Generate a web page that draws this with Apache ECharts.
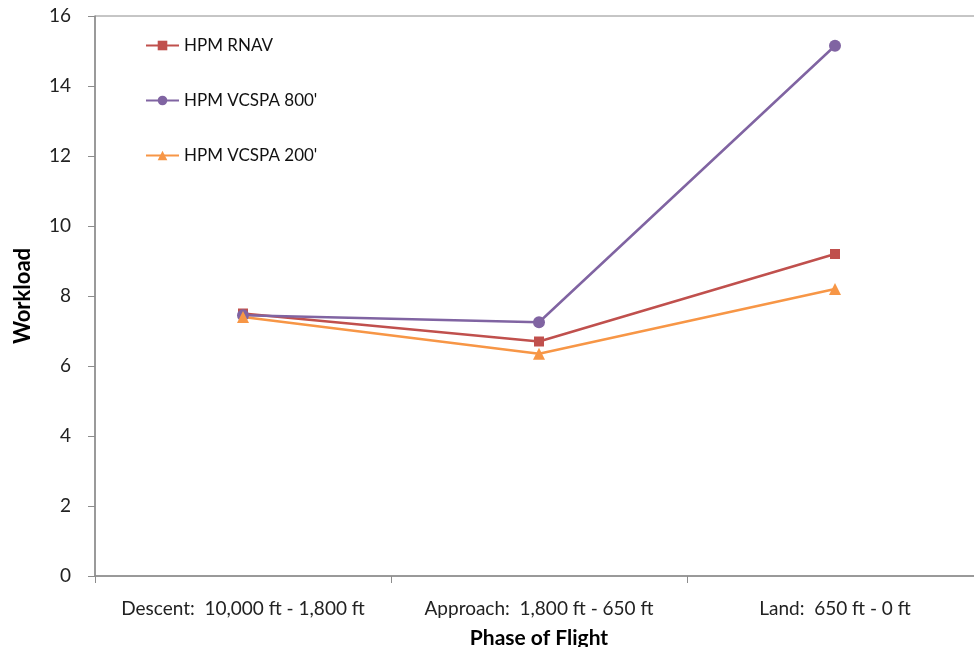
<!DOCTYPE html>
<html>
<head>
<meta charset="utf-8">
<script src="https://cdn.jsdelivr.net/npm/echarts@6/dist/echarts.min.js"></script>
<style>
  html, body { margin: 0; padding: 0; background: #fff; overflow: hidden; }
  #chart { width: 974px; height: 647px; }
</style>
</head>
<body>
<div id="chart"></div>
<script>
// Workload by phase of flight
const phases = ['Descent:  10,000 ft - 1,800 ft', 'Approach:  1,800 ft - 650 ft', 'Land:  650 ft - 0 ft'];
const hpmRnav = [7.5, 6.7, 9.2];
const hpmVcspa800 = [7.45, 7.25, 15.15];
const hpmVcspa200 = [7.4, 6.35, 8.2];
const yTicks = [0, 2, 4, 6, 8, 10, 12, 14, 16];

const font = 'Lato, "Open Sans", "Liberation Sans", sans-serif';
const axisGray = '#8c8c8c';

const chart = echarts.init(document.getElementById('chart'));

function lineSeries(name, data, color, symbol, size) {
  return {
    name: name,
    type: 'line',
    data: data,
    symbol: symbol,
    symbolSize: size,
    lineStyle: { color: color, width: 2.5 },
    itemStyle: { color: color },
    emphasis: { disabled: true },
    animation: false
  };
}

chart.setOption({
  animation: false,
  // plot area runs past the right edge of the canvas
  grid: {
    left: 95, top: 16, width: 888, height: 560,
    outerBoundsMode: 'none',
    containLabel: false,
    show: true, borderColor: axisGray, borderWidth: 1
  },
  legend: {
    orient: 'vertical',
    left: 145, top: 37,
    padding: 0,
    itemGap: 38,
    itemWidth: 33, itemHeight: 12,
    textStyle: { fontFamily: font, fontSize: 17, color: '#111' },
    data: ['HPM RNAV', "HPM VCSPA 800'", "HPM VCSPA 200'"]
  },
  xAxis: {
    type: 'category',
    data: phases,
    boundaryGap: true,
    name: 'Phase of Flight',
    nameLocation: 'middle',
    nameGap: 52,
    nameTextStyle: { fontFamily: font, fontSize: 21, fontWeight: 'bold', color: '#000' },
    axisLine: { lineStyle: { color: axisGray, width: 1.5 } },
    axisTick: { show: true, length: 7, lineStyle: { color: axisGray } },
    axisLabel: { fontFamily: font, fontSize: 19, color: '#222', margin: 23, interval: 0, hideOverlap: false },
    splitLine: { show: false }
  },
  yAxis: {
    type: 'value',
    min: yTicks[0], max: yTicks[yTicks.length - 1], interval: 2,
    name: 'Workload',
    nameLocation: 'middle',
    nameGap: 61,
    nameTextStyle: { fontFamily: font, fontSize: 22, fontWeight: 'bold', color: '#000' },
    axisLine: { show: true, lineStyle: { color: axisGray, width: 1.5 } },
    axisTick: { show: true, length: 7, lineStyle: { color: axisGray } },
    axisLabel: { fontFamily: font, fontSize: 19, color: '#222', margin: 24 },
    splitLine: { show: false }
  },
  series: [
    lineSeries('HPM RNAV', hpmRnav, '#C0504D', 'rect', 10),
    lineSeries("HPM VCSPA 800'", hpmVcspa800, '#8064A2', 'circle', 12),
    lineSeries("HPM VCSPA 200'", hpmVcspa200, '#F79646', 'triangle', 12)
  ]
});
</script>
</body>
</html>
